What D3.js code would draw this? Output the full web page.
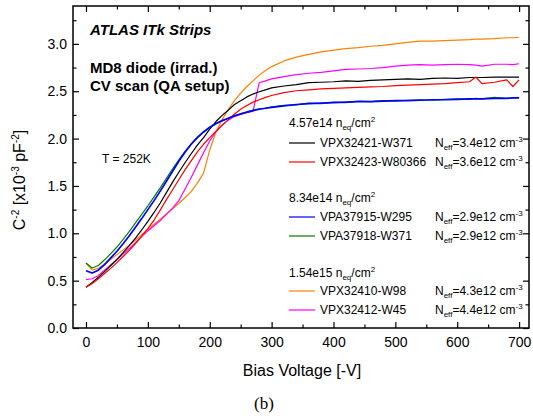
<!DOCTYPE html>
<html><head><meta charset="utf-8">
<script src="https://cdn.jsdelivr.net/npm/d3@7/dist/d3.min.js"></script>
<style>body{margin:0;background:#fff} svg text{font-family:Arial,"Liberation Sans",sans-serif}</style>
</head><body><svg id="c" width="533" height="420"></svg>
<script>
// ---- data ----
const volts = [0,10,20,30,40,50,60,70,80,90,100,110,120,130,140,150,160,170,180,190,200,210,220,230,240,250,260,270,280,290,300,
  320,340,360,380,400,420,440,460,480,500,520,540,560,580,600,620,630,640,660,680,690,700];
const blackVals = [0.43,0.48,0.535,0.595,0.66,0.725,0.795,0.87,0.95,1.035,1.125,1.22,1.32,1.43,1.54,1.645,1.745,1.84,1.93,2.01,2.10,2.18,2.245,2.30,2.36,2.40,2.44,2.47,2.495,2.515,2.535,
  2.555,2.57,2.59,2.595,2.60,2.61,2.605,2.615,2.62,2.625,2.63,2.625,2.635,2.64,2.635,2.645,2.645,2.645,2.65,2.65,2.65,2.65];
const redVals = [0.43,0.47,0.52,0.575,0.63,0.69,0.755,0.82,0.89,0.97,1.05,1.14,1.245,1.355,1.46,1.565,1.67,1.765,1.86,1.94,2.01,2.075,2.14,2.20,2.26,2.31,2.35,2.385,2.41,2.435,2.455,
  2.485,2.505,2.515,2.525,2.53,2.535,2.54,2.545,2.55,2.56,2.565,2.57,2.575,2.58,2.59,2.60,2.65,2.58,2.595,2.62,2.55,2.62];
const blueVals = [0.605,0.58,0.61,0.67,0.74,0.81,0.89,0.975,1.065,1.155,1.25,1.345,1.445,1.55,1.655,1.76,1.855,1.94,2.01,2.07,2.12,2.16,2.19,2.215,2.24,2.26,2.28,2.295,2.31,2.32,2.33,
  2.345,2.36,2.37,2.375,2.38,2.385,2.39,2.39,2.395,2.40,2.40,2.405,2.41,2.41,2.415,2.42,2.42,2.42,2.425,2.425,2.43,2.43];
const greenVals = [0.686,0.634,0.66,0.72,0.785,0.855,0.935,1.02,1.11,1.20,1.29,1.385,1.48,1.58,1.68,1.775,1.865,1.945,2.015,2.07,2.115,2.155,2.185,2.215,2.24,2.265,2.28,2.30,2.315,2.32,2.335,
  2.35,2.355,2.375,2.37,2.385,2.38,2.395,2.39,2.40,2.395,2.405,2.41,2.405,2.415,2.42,2.415,2.425,2.42,2.435,2.425,2.43,2.435];
const orangeVals = [0.686,0.612,0.63,0.675,0.725,0.775,0.825,0.875,0.93,0.985,1.04,1.095,1.15,1.205,1.26,1.315,1.375,1.44,1.53,1.635,1.88,2.07,2.20,2.31,2.40,2.48,2.55,2.61,2.67,2.72,2.76,
  2.82,2.86,2.89,2.915,2.935,2.95,2.96,2.975,2.985,3.00,3.015,3.03,3.03,3.035,3.04,3.045,3.05,3.05,3.055,3.065,3.065,3.07];
const magentaVals = [0.51,0.52,0.555,0.61,0.665,0.72,0.78,0.84,0.90,0.965,1.025,1.08,1.135,1.20,1.265,1.345,1.465,1.59,1.72,1.85,1.975,2.075,2.145,2.195,2.235,2.255,2.275,2.29,2.59,2.61,2.63,
  2.655,2.675,2.69,2.70,2.715,2.73,2.735,2.74,2.75,2.765,2.775,2.78,2.775,2.78,2.785,2.78,2.775,2.765,2.785,2.785,2.78,2.79];

const seriesNames = ["VPX32421-W371","VPX32423-W80366","VPA37915-W295","VPA37918-W371","VPX32410-W98","VPX32412-W45"];
const neffLabels = ["3.4e12","3.6e12","2.9e12","2.9e12","4.3e12","4.4e12"];
const groupLabels = ["4.57e14","8.34e14","1.54e15"];
const seriesColors = ["#000000","#ff0000","#0000ff","#008000","#ff8000","#ff00ff"];
const seriesValues = [blackVals, redVals, blueVals, greenVals, orangeVals, magentaVals];
const xTicks = [0,100,200,300,400,500,600,700];
const yTicks = [0.0,0.5,1.0,1.5,2.0,2.5,3.0];

// ---- chart ----
const svg = d3.select("#c");
const x = d3.scaleLinear().domain([-21, 716]).range([73, 529]);
const y = d3.scaleLinear().domain([0, 3.4]).range([328, 6]);

const xMinor = d3.range(-0, 701, 50).filter(v => v % 100 !== 0);
const yMinor = d3.range(0.25, 3.3, 0.5);

function styleAxis(g){ g.selectAll(".domain").remove(); g.selectAll("line").attr("stroke","#000").attr("stroke-width",1.2); }

// bottom
svg.append("g").attr("transform",`translate(0,${y(0)})`)
  .call(d3.axisBottom(x).tickValues(xTicks).tickFormat(d3.format("d")).tickSizeInner(-6).tickSizeOuter(0).tickPadding(9))
  .call(styleAxis).call(g=>g.selectAll("text").attr("font-size",14).attr("fill","#000").attr("font-family","Arial, Liberation Sans"));
svg.append("g").attr("transform",`translate(0,${y(0)})`)
  .call(d3.axisBottom(x).tickValues(xMinor).tickFormat("").tickSizeInner(-3.5).tickSizeOuter(0)).call(styleAxis);
// top
svg.append("g").attr("transform",`translate(0,${y(3.4)})`)
  .call(d3.axisTop(x).tickValues(xTicks).tickFormat("").tickSizeInner(-6).tickSizeOuter(0)).call(styleAxis);
svg.append("g").attr("transform",`translate(0,${y(3.4)})`)
  .call(d3.axisTop(x).tickValues(xMinor).tickFormat("").tickSizeInner(-3.5).tickSizeOuter(0)).call(styleAxis);
// left
svg.append("g").attr("transform",`translate(${x(-21)},0)`)
  .call(d3.axisLeft(y).tickValues(yTicks).tickFormat(d3.format(".1f")).tickSizeInner(-6).tickSizeOuter(0).tickPadding(6))
  .call(styleAxis).call(g=>g.selectAll("text").attr("font-size",14).attr("fill","#000").attr("font-family","Arial, Liberation Sans"));
svg.append("g").attr("transform",`translate(${x(-21)},0)`)
  .call(d3.axisLeft(y).tickValues(yMinor).tickFormat("").tickSizeInner(-3.5).tickSizeOuter(0)).call(styleAxis);
// right
svg.append("g").attr("transform",`translate(${x(716)},0)`)
  .call(d3.axisRight(y).tickValues(yTicks).tickFormat("").tickSizeInner(-6).tickSizeOuter(0)).call(styleAxis);
svg.append("g").attr("transform",`translate(${x(716)},0)`)
  .call(d3.axisRight(y).tickValues(yMinor).tickFormat("").tickSizeInner(-3.5).tickSizeOuter(0)).call(styleAxis);

// frame
svg.append("rect").attr("x",x(-21)).attr("y",y(3.4)).attr("width",x(716)-x(-21)).attr("height",y(0)-y(3.4))
  .attr("fill","none").attr("stroke","#000").attr("stroke-width",1.5);

// lines
const line = d3.line().x((d,i)=>x(volts[i])).y(d=>y(d));
const drawOrder = [4,5,0,1,3,2];
drawOrder.forEach(k=>{
  svg.append("path").datum(seriesValues[k]).attr("d",line).attr("fill","none")
    .attr("stroke",seriesColors[k]).attr("stroke-width", k===2 ? 1.7 : 1.2).attr("stroke-linejoin","round");
});

// titles
svg.append("text").attr("x",90).attr("y",35).attr("font-size",15).attr("font-weight","bold").attr("font-style","italic").text("ATLAS ITk Strips");
svg.append("text").attr("x",90).attr("y",73).attr("font-size",15).attr("font-weight","bold").text("MD8 diode (irrad.)");
svg.append("text").attr("x",90).attr("y",91).attr("font-size",15).attr("font-weight","bold").text("CV scan (QA setup)");
svg.append("text").attr("x",102).attr("y",163).attr("font-size",12).text("T = 252K");

// legend
const groupY = [127, 202, 277];
const rowY = [147, 166, 221, 240, 295, 314];
groupLabels.forEach((g,i)=>{
  const t = svg.append("text").attr("x",289).attr("y",groupY[i]).attr("font-size",12);
  t.append("tspan").text(g+" n");
  t.append("tspan").attr("font-size",8).attr("dy",3).text("eq");
  t.append("tspan").attr("dy",-3).text("/cm");
  t.append("tspan").attr("font-size",8).attr("dy",-5).text("2");
});
seriesNames.forEach((n,i)=>{
  svg.append("line").attr("x1",289).attr("x2",315).attr("y1",rowY[i]-4).attr("y2",rowY[i]-4)
    .attr("stroke",seriesColors[i]).attr("stroke-width",1.2);
  svg.append("text").attr("x",320).attr("y",rowY[i]).attr("font-size",12).text(n);
  const t = svg.append("text").attr("x",435).attr("y",rowY[i]).attr("font-size",12);
  t.append("tspan").text("N");
  t.append("tspan").attr("font-size",8).attr("dy",3).text("eff");
  t.append("tspan").attr("dy",-3).text("="+neffLabels[i]+" cm");
  t.append("tspan").attr("font-size",8).attr("dy",-5).text("-3");
});

// axis titles
svg.append("text").attr("x",302).attr("y",376).attr("text-anchor","middle").attr("font-size",16).text("Bias Voltage [-V]");
const yl = svg.append("text").attr("transform","translate(25,180) rotate(-90)").attr("text-anchor","middle").attr("font-size",16);
yl.append("tspan").text("C");
yl.append("tspan").attr("font-size",10).attr("dy",-6).text("-2");
yl.append("tspan").attr("dy",6).text(" [x10");
yl.append("tspan").attr("font-size",10).attr("dy",-6).text("-3");
yl.append("tspan").attr("dy",6).text(" pF");
yl.append("tspan").attr("font-size",10).attr("dy",-6).text("-2");
yl.append("tspan").attr("dy",6).text("]");
svg.append("text").attr("x",264).attr("y",409).attr("text-anchor","middle").attr("font-size",17)
  .style("font-family","'Liberation Serif','Times New Roman',serif").text("(b)");
</script></body></html>
